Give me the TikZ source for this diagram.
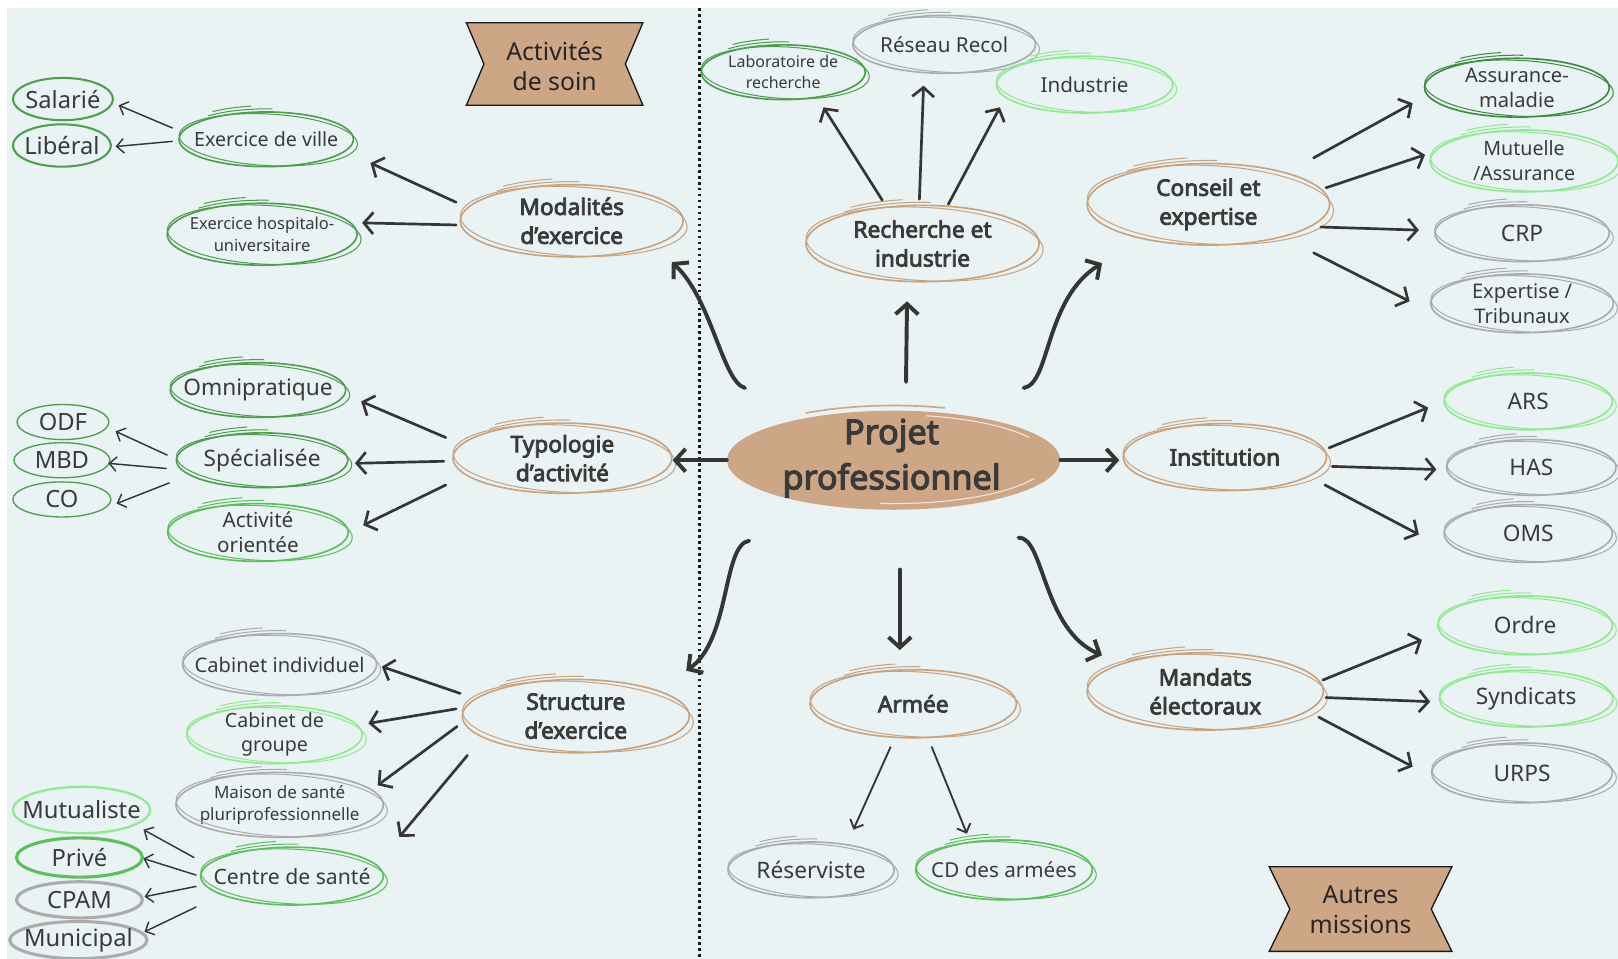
\documentclass[tikz,border=0pt]{standalone}
\usepackage{fontspec}
\setmainfont{Noto Sans}[BoldFont={Noto Sans},BoldFeatures={FakeBold=3.5}]
\usetikzlibrary{shapes.geometric,arrows.meta,calc}

\definecolor{bg}{HTML}{E9F3F4}
\definecolor{tan}{HTML}{CDA785}
\definecolor{tanline}{HTML}{C9A27E}
\definecolor{ink}{HTML}{3A3A3A}
\definecolor{arrowc}{HTML}{353535}
\definecolor{gdark}{HTML}{3F8C3F}
\definecolor{gmid}{HTML}{4E9E4E}
\definecolor{gfresh}{HTML}{5DBE5D}
\definecolor{glight}{HTML}{8FEA8F}
\definecolor{grey}{HTML}{ABABAB}

\tikzset{
  bubble/.style={ellipse, line width=1.6pt, inner sep=0pt},
  txt/.style={text=ink, align=center, inner sep=0pt, font=\fontsize{20}{24}\selectfont},
  fs/.style 2 args={font=\fontsize{#1}{#2}\selectfont},
  lvlone/.style={font=\fontsize{22}{28}\selectfont\bfseries},
  bannertext/.style={text=black!85, align=center, inner sep=0pt, font=\fontsize{24}{29}\selectfont},
  big/.style={arrowc, line width=3.8pt, line cap=round, -{Straight Barb[length=10pt,width=22pt]}},
  mid/.style={arrowc, line width=2.6pt, line cap=round, -{Straight Barb[length=9pt,width=21pt]}},
  thinarr/.style={arrowc, line width=1.4pt, line cap=round, -{Straight Barb[length=7pt,width=14pt]}},
}

% sketched bubble: [text style]{name}{x}{y}{width}{height}{colour}{text}
\newcommand\bub[8][]{%
  \node[bubble,draw=#7,minimum width=#5pt,minimum height=#6pt] (#2) at (#3,-#4) {};
  \node[txt,#1] (#2-t) at (#2.center) {#8};
  \draw[#7,line width=1pt] ([shift={(2,-0.5)}]#2.center) ellipse [x radius={#5/2+2}, y radius={#6/2-1.5}, rotate=-3];
  \draw[#7,line width=1pt] ($(#2.center)+({#5/2*cos(132)},{#6/2*sin(132)+3})$) arc[start angle=132,end angle=86,x radius={#5/2},y radius={#6/2}];
  \draw[#7,line width=1pt] ($(#2.center)+({#5/2*cos(128)},{#6/2*sin(128)+6})$) arc[start angle=128,end angle=100,x radius={#5/2},y radius={#6/2}];
}
% plain outlined leaf: [outline style]{name}{x}{y}{width}{height}{colour}{text}
\newcommand\leaf[8][]{%
  \node[ellipse,inner sep=0pt,draw=#7,line width=2pt,minimum width=#5pt,minimum height=#6pt,#1] (#2) at (#3,-#4) {};
  \node[txt,fs={23}{27}] (#2-t) at (#2.center) {#8};
}

\begin{document}
\begin{tikzpicture}[x=1pt,y=1pt]
\useasboundingbox (0,0) rectangle (1568,-929);
\fill[white] (0,0) rectangle (1568,-929);
\fill[bg] (7,-8) rectangle (1568,-929);

% separator between the two halves
\draw[black!90, line width=2.6pt, dash pattern=on 2.6pt off 3.2pt] (678,-8) -- (678,-929);

% ribbons
\draw[fill=tan, draw=black!90, line width=1.3pt] (452,-22) -- (623,-22) -- (606,-62) -- (623,-102) -- (452,-102) -- (469,-62) -- cycle;
\node[bannertext] (soin) at (537.5,-64) {Activités\\de soin};
\draw[fill=tan, draw=black!90, line width=1.3pt] (1230,-840) -- (1407,-840) -- (1387,-881) -- (1407,-922) -- (1230,-922) -- (1250,-881) -- cycle;
\node[bannertext] (autres) at (1318.5,-882) {Autres\\missions};

% centre
\node[ellipse, fill=tan, minimum width=323pt, minimum height=96pt, inner sep=0pt] (pp) at (866,-446) {};
\draw[tan, line width=1.6pt] ($(pp.center)+({161*cos(122)},{48*sin(122)+5})$) arc[start angle=122,end angle=72,x radius=161,y radius=48];
\draw[white, opacity=.75, line width=1pt] ($(pp.center)+({152*cos(78)},{44*sin(78)})$) arc[start angle=78,end angle=30,x radius=152,y radius=44];
\draw[white, opacity=.75, line width=1pt] ($(pp.center)+({150*cos(-95)},{42*sin(-95)})$) arc[start angle=-95,end angle=-25,x radius=150,y radius=42];
\node[text=ink, align=center, inner sep=0pt, font=\fontsize{33}{44}\selectfont\bfseries] (pp-t) at (864,-444) {Projet\\professionnel};

% first ring
\bub[lvlone]{mod}{554}{214}{216}{70}{tanline}{Modalités\\d’exercice}
\bub[lvlone]{rech}{894}{236}{226}{74}{tanline}{Recherche et\\industrie}
\bub[lvlone]{cons}{1171}{198}{235}{79}{tanline}{Conseil et\\expertise}
\bub[lvlone]{typo}{545}{444}{212}{68}{tanline}{Typologie\\d’activité}
\bub[lvlone]{inst}{1187}{443}{197}{65}{tanline}{Institution}
\bub[lvlone]{stru}{558}{694}{220}{71}{tanline}{Structure\\d’exercice}
\bub[lvlone]{armee}{885}{682}{200}{66}{tanline}{Armée}
\bub[lvlone]{mand}{1168}{670}{229}{75}{tanline}{Mandats\\électoraux}

% second ring
\bub[fs={19}{23}]{exv}{258}{135}{169}{53}{gmid}{Exercice de ville}
\bub[fs={16}{21}]{exh}{254}{227}{184}{60}{gmid}{Exercice hospitalo-\\universitaire}
\bub[fs={15.5}{20}]{labo}{759}{70}{159}{53}{gmid}{Laboratoire de\\recherche}
\bub[fs={20}{24}]{res}{915}{43}{177}{56}{grey}{Réseau Recol}
\bub[fs={20}{24}]{ind}{1051}{82}{171}{55}{glight}{Industrie}
\bub[fs={19.5}{24}]{assm}{1470}{85}{179}{57}{gdark}{Assurance-\\maladie}
\bub[fs={19}{24}]{mut}{1477}{156}{182}{60}{glight}{Mutuelle\\/Assurance}
\bub[fs={22}{26}]{crp}{1475}{226}{169}{55}{grey}{CRP}
\bub[fs={19.5}{24}]{exp}{1475}{294}{177}{57}{grey}{Expertise /\\Tribunaux}
\bub[fs={22}{26}]{ars}{1481}{389}{163}{55}{glight}{ARS}
\bub[fs={22}{26}]{has}{1484}{453}{164}{54}{grey}{HAS}
\bub[fs={22}{26}]{oms}{1481}{517}{163}{56}{grey}{OMS}
\bub[fs={22}{26}]{ordre}{1478}{606}{169}{57}{glight}{Ordre}
\bub[fs={22}{26}]{synd}{1479}{677}{168}{55}{glight}{Syndicats}
\bub[fs={22}{26}]{urps}{1475}{749}{175}{58}{grey}{URPS}
\bub[fs={22}{26}]{resv}{786}{843}{161}{54}{grey}{Réserviste}
\bub[fs={20}{24}]{cd}{973}{843}{171}{58}{gfresh}{CD des armées}
\bub[fs={22}{26}]{omni}{250}{378}{170}{53}{gmid}{Omnipratique}
\bub[fs={22}{26}]{spec}{254}{446}{166}{53}{gmid}{Spécialisée}
\bub[fs={20}{24}]{act}{250}{516}{175}{56}{gfresh}{Activité\\orientée}
\bub[fs={19.5}{24}]{cabi}{271}{644}{188}{60}{grey}{Cabinet individuel}
\bub[fs={19}{23}]{cabg}{266}{712}{170}{56}{glight}{Cabinet de\\groupe}
\bub[fs={16.5}{21}]{mais}{271}{780}{201}{63}{grey}{Maison de santé\\pluriprofessionnelle}
\bub[fs={20.5}{24}]{cent}{283}{849}{177}{56}{gfresh}{Centre de santé}

% third ring
\leaf{sal}{61}{96}{97}{41}{gmid}{Salarié}
\leaf{lib}{60}{141}{95}{41}{gmid}{Libéral}
\leaf[line width=1.3pt]{odf}{61}{409}{89}{34}{gmid}{ODF}
\leaf[line width=1.3pt]{mbd}{60}{446}{93}{34}{gmid}{MBD}
\leaf[line width=1.3pt]{co}{60}{484}{95}{34}{gmid}{CO}
\leaf[line width=2.2pt]{mutu}{79}{785}{133}{45}{glight}{Mutualiste}
\leaf[line width=3pt]{priv}{77}{831}{122}{38}{gfresh}{Privé}
\leaf[line width=3pt]{cpam}{77}{872}{122}{35}{grey}{CPAM}
\leaf[line width=3pt]{muni}{76}{911}{133}{36}{grey}{Municipal}

% connectors from the centre
\draw[big] ($(pp)+(-144,70)$) .. controls +(-22,6) and +(39,-36) .. ($(mod)+(97,-40)$);
\draw[big] ($(pp)+(12,76)$) -- ($(rech)+(-15,-56)$);
\draw[big] ($(pp)+(126,70)$) .. controls +(26,4) and +(-56,-35) .. ($(cons)+(-103,-57)$);
\draw[big] (pp.west) -- (pp.west -| typo.east);
\draw[big] (pp.east) -- ([xshift=-3pt]pp.east -| inst.west);
\draw[big] ($(pp)+(-140,-78)$) .. controls +(-26,-4) and +(43,30) .. ($(stru)+(107,44)$);
\draw[big] ($(pp)+(6,-106)$) -- ($(armee)+(-13,52)$);
\draw[big] ($(pp)+(121,-75)$) .. controls +(25,1) and +(-58,25) .. ($(mand)+(-100,35)$);

% first ring to second ring
\draw[mid] ($(mod)+(-112,18)$) -- ($(exv)+(101,-23)$);
\draw[mid] ($(mod)+(-112,-4)$) -- ($(exh)+(97,11)$);
\draw[mid] ($(rech)+(-39,42)$) -- ($(labo)+(39,-34)$);
\draw[mid] ($(rech)+(-3,43)$) -- ($(res)+(-20,-40)$);
\draw[mid] ($(rech)+(25,38)$) -- ($(ind)+(-82,-22)$);
\draw[mid] ($(cons)+(102,45)$) -- ($(assm)+(-101,-15)$);
\draw[mid] ($(cons)+(114,16)$) -- ($(mut)+(-96,6)$);
\draw[mid] ($(cons)+(109,-22)$) -- ($(crp)+(-100,3)$);
\draw[mid] ($(cons)+(102,-47)$) -- ($(exp)+(-109,2)$);
\draw[mid] ($(typo)+(-113,20)$) -- ($(omni)+(100,-11)$);
\draw[mid] ($(typo)+(-115,-3)$) -- ($(spec)+(90,-3)$);
\draw[mid] ($(typo)+(-113,-26)$) -- ($(act)+(102,7)$);
\draw[mid] ($(inst)+(101,9)$) -- ($(ars)+(-97,-6)$);
\draw[mid] ($(inst)+(104,-9)$) -- ($(has)+(-92,-2)$);
\draw[mid] ($(inst)+(97,-27)$) -- ($(oms)+(-106,-1)$);
\draw[mid] ($(stru)+(-112,22)$) -- ($(cabi)+(99,-2)$);
\draw[mid] ($(stru)+(-116,7)$) -- ($(cabg)+(91,11)$);
\draw[mid] ($(stru)+(-115,-10)$) -- ($(mais)+(95,19)$);
\draw[mid] ($(stru)+(-105,-38)$) -- ($(cent)+(104,38)$);
\draw[mid] ($(mand)+(114,11)$) -- ($(ordre)+(-100,-14)$);
\draw[mid] ($(mand)+(117,-6)$) -- ($(synd)+(-93,-3)$);
\draw[mid] ($(mand)+(110,-25)$) -- ($(urps)+(-106,6)$);
\draw[thinarr, line width=1.8pt] ($(armee)+(-22,-42)$) -- ($(resv)+(41,39)$);
\draw[thinarr, line width=1.8pt] ($(armee)+(18,-42)$) -- ($(cd)+(-36,35)$);

% second ring to third ring
\draw[thinarr] ($(exv)+(-91,11)$) -- ($(sal)+(54,-6)$);
\draw[thinarr] ($(exv)+(-91,-2)$) -- ($(lib)+(52,-1)$);
\draw[thinarr] ($(spec)+(-92,5)$) -- ($(odf)+(51,-9)$);
\draw[thinarr] ($(spec)+(-93,-8)$) -- ($(mbd)+(45,-3)$);
\draw[thinarr] ($(spec)+(-90,-22)$) -- ($(co)+(53,-4)$);
\draw[thinarr] ($(cent)+(-95,18)$) -- ($(mutu)+(60,-19)$);
\draw[thinarr] ($(cent)+(-93,1)$) -- ($(priv)+(62,-1)$);
\draw[thinarr] ($(cent)+(-93,-10)$) -- ($(cpam)+(63,3)$);
\draw[thinarr] ($(cent)+(-93,-30)$) -- ($(muni)+(64,8)$);
\end{tikzpicture}
\end{document}
